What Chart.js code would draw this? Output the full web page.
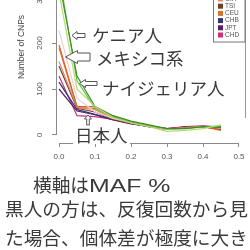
<!DOCTYPE html>
<html>
<head>
<meta charset="utf-8">
<script src="https://cdn.jsdelivr.net/npm/chart.js"></script>
<style>
  html, body { margin: 0; padding: 0; background: #fff; }
  #wrap { position: relative; width: 250px; height: 250px; overflow: hidden; background: #fff; }
  #chart { position: absolute; left: 0; top: 0; }
  .jp { position: absolute; font-family: "Noto Sans CJK JP", sans-serif; color: #3a3a3a; white-space: nowrap; line-height: 1; }
  .note { font-size: 17.5px; }
  .body { font-size: 18.7px; }
  .lat { display: inline-block; font-family: "Liberation Sans", Arial, sans-serif; transform: scaleX(1.33); transform-origin: 0 50%; }
</style>
</head>
<body>
<div id="wrap">
  <canvas id="chart" width="250" height="173"></canvas>
  <div class="jp note" style="left:92px; top:26px;">ケニア人</div>
  <div class="jp note" style="left:96px; top:49px;">メキシコ系</div>
  <div class="jp note" style="left:102px; top:79px;">ナイジェリア人</div>
  <div class="jp note" style="left:73px; top:126px; background:#fff; padding:0 2px;">日本人</div>
  <div class="jp body" style="left:33px; top:175px;">横軸は<span class="lat">MAF %</span></div>
  <div class="jp body" style="left:5px; top:199px;">黒人の方は、反復回数から見</div>
  <div class="jp body" style="left:5px; top:228px;">た場合、個体差が極度に大き</div>
</div>
<script>
// MAF bins and population series (number of CNPs)
const mafValues = [0, 0.05, 0.1, 0.15, 0.2, 0.25, 0.3, 0.35, 0.4, 0.45];
const xTicks = [0, 0.1, 0.2, 0.3, 0.4, 0.5];
const xTickLabels = ['0.0', '0.1', '0.2', '0.3', '0.4', '0.5'];
const yTicks = [0, 100, 200, 300];
const yTickLabels = ['0', '100', '200', '300'];

const populations = ['YRI', 'LWK', 'MKK', 'ASW', 'MEX', 'GIH', 'TSI', 'CEU', 'CHB', 'JPT', 'CHD'];
const popColors = ['#b5dc6e', '#3c8c2c', '#6cbf48', '#efcfcf', '#e0602c', '#e08a70', '#6b4226', '#cf7434', '#33336e', '#5c1c6c', '#c8307c'];

const yri = [310, 100, 62, 38, 26, 18, 8, 10, 14, 22];
const lwk = [335, 128, 62, 42, 30, 22, 14, 14, 18, 16];
const mkk = [350, 118, 58, 40, 28, 20, 13, 15, 17, 20];
const asw = [228, 80, 50, 36, 28, 20, 12, 14, 18, 16];
const mex = [196, 62, 62, 40, 26, 20, 14, 16, 18, 10];
const gih = [160, 60, 55, 36, 26, 18, 12, 16, 19, 14];
const tsi = [150, 58, 50, 34, 25, 18, 12, 15, 18, 12];
const ceu = [190, 60, 58, 38, 27, 19, 13, 16, 18, 12];
const chb = [115, 55, 45, 34, 25, 18, 13, 17, 17, 17];
const jpt = [100, 52, 44, 33, 24, 19, 14, 17, 19, 18];
const chd = [128, 42, 40, 34, 26, 18, 14, 18, 20, 16];
const seriesList = [yri, lwk, mkk, asw, mex, gih, tsi, ceu, chb, jpt, chd];

const tickFont = '"Liberation Sans", Arial, sans-serif';

function blockArrow(ctx, pts) {
    ctx.beginPath();
    ctx.moveTo(pts[0][0], pts[0][1]);
    for (let i = 1; i < pts.length; i++) ctx.lineTo(pts[i][0], pts[i][1]);
    ctx.closePath();
    ctx.fillStyle = '#fff';
    ctx.fill();
    ctx.strokeStyle = '#555';
    ctx.lineWidth = 1;
    ctx.stroke();
}

function leftArrow(ctx, tx, ty, headLen, headH, shaftH, endX) {
    blockArrow(ctx, [
        [tx, ty], [tx + headLen, ty - headH], [tx + headLen, ty - shaftH], [endX, ty - shaftH],
        [endX, ty + shaftH], [tx + headLen, ty + shaftH], [tx + headLen, ty + headH]
    ]);
}

const rAxes = {
    id: 'rAxes',
    afterDraw(chart) {
        const ctx = chart.ctx;
        const xs = chart.scales.x;
        const ys = chart.scales.y;
        const area = chart.chartArea;
        ctx.save();
        ctx.strokeStyle = '#8a8a8a';
        ctx.lineWidth = 1;
        // y axis line (0 .. top)
        ctx.beginPath();
        ctx.moveTo(area.left + 0.5, ys.getPixelForValue(0));
        ctx.lineTo(area.left + 0.5, ys.getPixelForValue(yTicks[yTicks.length - 1]));
        ctx.stroke();
        // x axis line (0 .. 0.5)
        ctx.beginPath();
        ctx.moveTo(xs.getPixelForValue(xTicks[0]), area.bottom + 0.5);
        ctx.lineTo(xs.getPixelForValue(xTicks[xTicks.length - 1]), area.bottom + 0.5);
        ctx.stroke();
        // frame edge on the right
        ctx.strokeStyle = '#999';
        ctx.beginPath();
        ctx.moveTo(245.5, 0);
        ctx.lineTo(245.5, 118);
        ctx.stroke();

        // rotated y tick labels
        ctx.fillStyle = '#555';
        ctx.font = '8px ' + tickFont;
        ctx.textAlign = 'center';
        ctx.textBaseline = 'middle';
        yTicks.forEach((v, i) => {
            ctx.save();
            ctx.translate(40, ys.getPixelForValue(v));
            ctx.rotate(-Math.PI / 2);
            ctx.fillText(yTickLabels[i], 0, 0);
            ctx.restore();
        });
        // y title
        ctx.save();
        ctx.font = '8.5px ' + tickFont;
        ctx.fillStyle = '#444';
        ctx.translate(22, 47);
        ctx.rotate(-Math.PI / 2);
        ctx.fillText('Number of CNPs', 0, 0);
        ctx.restore();

        // legend box
        ctx.fillStyle = '#fff';
        ctx.fillRect(213, -10, 32, 52);
        ctx.strokeStyle = '#777';
        ctx.strokeRect(213.5, -10, 31.5, 52);
        ctx.font = '6.5px ' + tickFont;
        ctx.textAlign = 'left';
        populations.forEach((p, i) => {
            const cy = 35 - (populations.length - 1 - i) * 7.2;
            ctx.fillStyle = popColors[i];
            ctx.fillRect(218, cy - 2.5, 5, 5);
            ctx.fillStyle = '#555';
            ctx.fillText(p, 225, cy);
        });

        // annotation arrows
        leftArrow(ctx, 72, 35.5, 5, 4, 2, 85);
        leftArrow(ctx, 65.5, 57, 12, 6.5, 4, 90);
        leftArrow(ctx, 79.5, 83.5, 6, 4, 2, 97);
        blockArrow(ctx, [[88, 115], [91.5, 119], [89.3, 119], [89.3, 125], [86.7, 125], [86.7, 119], [84.5, 119]]);
        ctx.restore();
    }
};

const datasets = populations.map((p, i) => ({
    label: p,
    data: mafValues.map((m, j) => ({ x: m, y: seriesList[i][j] })),
    borderColor: popColors[i],
    borderWidth: 1.2,
    pointRadius: 0,
    tension: 0,
    fill: false
}));

new Chart(document.getElementById('chart'), {
    type: 'line',
    data: { datasets: datasets },
    options: {
        responsive: false,
        animation: false,
        layout: { padding: { left: 0, right: 5, top: 0, bottom: 0 } },
        plugins: { legend: { display: false }, tooltip: { enabled: false } },
        scales: {
            x: {
                type: 'linear',
                min: -3 / 360,
                max: 0.5 + 6 / 360,
                afterBuildTicks: s => { s.ticks = xTicks.map(v => ({ value: v })); },
                afterFit: s => { s.height = 30; },
                border: { display: false },
                grid: { drawOnChartArea: false, drawTicks: true, tickLength: 4, color: '#8a8a8a' },
                ticks: {
                    padding: 5,
                    color: '#555',
                    autoSkip: false,
                    maxRotation: 0,
                    font: { size: 8, family: tickFont },
                    callback: (v, i) => xTickLabels[i]
                }
            },
            y: {
                type: 'linear',
                min: -17.4,
                max: 293.5,
                afterBuildTicks: s => { s.ticks = yTicks.map(v => ({ value: v })); },
                afterFit: s => { s.width = 56; },
                border: { display: false },
                grid: { drawOnChartArea: false, drawTicks: true, tickLength: 4, color: '#8a8a8a' },
                ticks: { display: false }
            }
        }
    },
    plugins: [rAxes]
});
</script>
</body>
</html>
